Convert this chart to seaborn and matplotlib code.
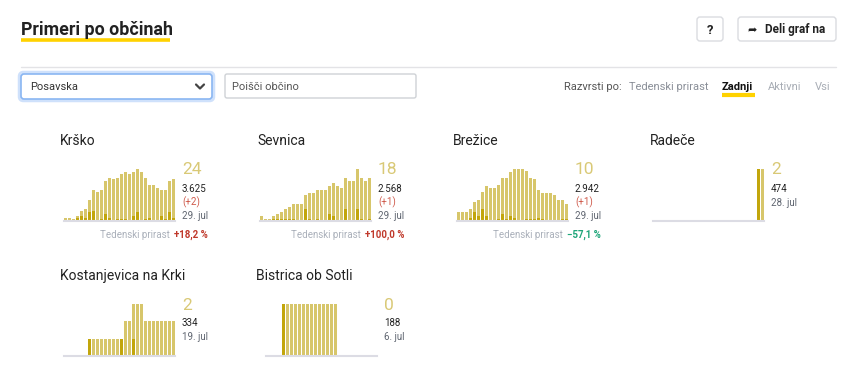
import matplotlib
matplotlib.use("Agg")
import matplotlib.pyplot as plt
from matplotlib.patches import FancyBboxPatch
import seaborn as sns
import pandas as pd

# figure size in pixels
W, H = 857, 375

# ---- data: 28 days, active cases (light) and daily new cases (dark) ----
days = list(range(1, 29))

krsko_active = [2, 2, 1, 3, 6, 7, 12, 18, 17, 18, 23, 25, 24, 25, 27, 28, 27, 28, 30, 28, 25, 21, 21, 19, 18, 18, 23, 24]
krsko_new = [0, 0, 0, 2, 3, 2, 5, 6, 0, 1, 4, 2, 0, 1, 1, 1, 0, 3, 5, 0, 1, 2, 0, 0, 3, 1, 5, 2]

sevnica_active = [2, 1, 1, 2, 3, 4, 5, 6, 7, 7, 7, 11, 12, 12, 13, 13, 13, 15, 16, 15, 14, 18, 17, 17, 22, 18, 17, 18]
sevnica_new = [0, 0, 0, 1, 1, 1, 1, 1, 1, 0, 0, 5, 1, 0, 1, 0, 0, 3, 2, 0, 0, 5, 0, 0, 5, 1, 0, 1]

brezice_active = [5, 5, 5, 7, 11, 12, 17, 20, 19, 19, 21, 25, 25, 28, 30, 30, 30, 29, 25, 24, 18, 16, 16, 16, 15, 12, 12, 10]
brezice_new = [0, 0, 0, 2, 5, 3, 7, 3, 0, 0, 1, 4, 1, 3, 2, 0, 0, 1, 1, 1, 2, 1, 0, 0, 0, 0, 1, 1]

radece_active = [0, 0, 0, 0, 0, 0, 0, 0, 0, 0, 0, 0, 0, 0, 0, 0, 0, 0, 0, 0, 0, 0, 0, 0, 0, 0, 2, 2]
radece_new = [0, 0, 0, 0, 0, 0, 0, 0, 0, 0, 0, 0, 0, 0, 0, 0, 0, 0, 0, 0, 0, 0, 0, 0, 0, 0, 2, 0]

kostanjevica_active = [0, 0, 0, 0, 0, 0, 1, 1, 1, 1, 1, 1, 1, 1, 1, 2, 2, 3, 3, 3, 2, 2, 2, 2, 2, 2, 2, 2]
kostanjevica_new = [0, 0, 0, 0, 0, 0, 1, 0, 0, 0, 0, 0, 0, 0, 1, 0, 0, 1, 0, 0, 0, 0, 0, 0, 0, 0, 0, 0]

bistrica_active = [0, 0, 0, 0, 1, 1, 1, 1, 1, 1, 1, 1, 1, 1, 1, 1, 1, 1, 0, 0, 0, 0, 0, 0, 0, 0, 0, 0]
bistrica_new = [0, 0, 0, 0, 1, 0, 0, 0, 0, 0, 0, 0, 0, 0, 0, 0, 0, 0, 0, 0, 0, 0, 0, 0, 0, 0, 0, 0]

names = ["Krško", "Sevnica", "Brežice", "Radeče", "Kostanjevica na Krki", "Bistrica ob Sotli"]
latest = ["24", "18", "10", "2", "2", "0"]
totals = ["3.625", "2.568", "2.942", "474", "334", "188"]
changes = ["(+2)", "(+1)", "(+1)", None, None, None]
last_dates = ["29. jul", "29. jul", "29. jul", "28. jul", "19. jul", "6. jul"]
weekly = ["+18,2 %", "+100,0 %", "\u221257,1 %", None, None, None]

series = [
    (krsko_active, krsko_new),
    (sevnica_active, sevnica_new),
    (brezice_active, brezice_new),
    (radece_active, radece_new),
    (kostanjevica_active, kostanjevica_new),
    (bistrica_active, bistrica_new),
]

# panel geometry in pixels: title x, title y, axis x0, x1, axis top y
panels = [
    (60, 141, 64, 175, 169),
    (257, 141, 260, 371, 169),
    (453, 141, 457, 568, 169),
    (650, 141, 653, 764, 169),
    (60, 276, 64, 175, 304),
    (256, 276, 266, 377, 304),
]

LIGHT = "#d7c66b"
DARK = "#c2a60c"
NUMC = "#d9c976"
FONT = ["Roboto", "DejaVu Sans"]
NARROW = ["Liberation Sans Narrow", "Roboto", "DejaVu Sans"]

sns.set_theme(style="white")
plt.rcParams["font.family"] = FONT

fig = plt.figure(figsize=(W / 100, H / 100), dpi=100)
fig.patch.set_facecolor("white")

# overlay axes in pixel coordinates for page text and controls
page = fig.add_axes([0, 0, 1, 1])
page.set_xlim(0, W)
page.set_ylim(H, 0)
page.axis("off")

page.text(21, 35, "Primeri po občinah", fontsize=12.8, fontweight="bold",
          family=NARROW, color="#222", va="baseline")
page.plot([21, 170], [39.5, 39.5], color="#ffd200", lw=2.6, solid_capstyle="butt")


def box(x0, y0, x1, y1, ec="#dadce0", lw=1.0, r=3, fc="white"):
    page.add_patch(FancyBboxPatch((x0, y0), x1 - x0, y1 - y0,
                                  boxstyle="round,pad=0,rounding_size=%d" % r,
                                  fc=fc, ec=ec, lw=lw))


box(697, 17, 723, 41)
page.text(710, 30, "?", fontsize=9.5, fontweight="bold", family=NARROW,
          ha="center", va="center", color="#222")
box(738, 17, 836, 41)
page.text(752, 29.5, "\u27a6", fontsize=8, family=["DejaVu Sans"], ha="center",
          va="center", color="#222")
page.text(765, 30, "Deli graf na", fontsize=8.5, fontweight="bold", family=NARROW,
          va="center", color="#222")

page.plot([21, 836], [66.5, 66.5], color="#e3e3e6", lw=1)

# select box and search box
box(19.5, 72.5, 213.5, 100.5, ec="#cfe1fb", lw=2.5, r=4)
box(21, 74, 212, 99, ec="#8ab6f2", lw=1.2, r=3)
page.text(30, 87, "Posavska", fontsize=8, family=NARROW, va="center", color="#333")
page.plot([196, 200, 204], [84.5, 88.5, 84.5], color="#444", lw=1.6)
box(225, 74, 416, 98, ec="#cfd2d6", lw=1.0, r=2)
page.text(232, 87, "Poišči občino", fontsize=8, family=NARROW, va="center", color="#555")

page.text(564, 87, "Razvrsti po:", fontsize=8, family=NARROW, va="center", color="#555")
page.text(629, 87, "Tedenski prirast", fontsize=8, family=NARROW, va="center", color="#8a8f98")
page.text(722, 87, "Zadnji", fontsize=8, fontweight="bold", family=NARROW, va="center", color="#111")
page.plot([722, 755], [95, 95], color="#ffd200", lw=3, solid_capstyle="butt")
page.text(768, 87, "Aktivni", fontsize=8, family=NARROW, va="center", color="#a8adb5")
page.text(815, 87, "Vsi", fontsize=8, family=NARROW, va="center", color="#a8adb5")

renderer = fig.canvas.get_renderer()

# ---- small multiples ----
for i, (tx, ty, x0, x1, top) in enumerate(panels):
    active, new = series[i]
    base = top + 52
    df = pd.DataFrame({"day": days, "active": active, "new": new})

    ax = fig.add_axes([x0 / W, 1 - base / H, (x1 - x0) / W, (base - top) / H])
    sns.barplot(data=df, x="day", y="active", color=LIGHT, width=0.85,
                saturation=1, linewidth=0, errorbar=None, ax=ax)
    sns.barplot(data=df, x="day", y="new", color=DARK, width=0.85,
                saturation=1, linewidth=0, errorbar=None, ax=ax)
    ax.set_xlim(-0.425, len(days) - 0.575)
    ax.set_ylim(0, max(active))
    ax.set_xticks([])
    ax.set_yticks([])
    ax.set_xlabel("")
    ax.set_ylabel("")
    ax.set_facecolor("none")
    for side in ["top", "left", "right"]:
        ax.spines[side].set_visible(False)
    ax.spines["bottom"].set_color("#dcdce4")
    ax.spines["bottom"].set_linewidth(1.5)
    ax.spines["bottom"].set_clip_on(False)

    page.text(tx, ty, names[i], fontsize=10, color="#222", va="center")

    nx = x1 + 7
    page.text(nx, top + 1, latest[i], fontsize=12.5, color=NUMC, va="center")
    page.text(nx, top + 19.5, totals[i], fontsize=7, color="#222", va="center")
    if changes[i]:
        page.text(nx, top + 33, changes[i], fontsize=7, color="#cf5a4b", va="center")
        page.text(nx, top + 47, last_dates[i], fontsize=7, color="#5f6570", va="center")
    else:
        page.text(nx, top + 33.5, last_dates[i], fontsize=7, color="#5f6570", va="center")

    if weekly[i]:
        gcolor = "#c0392b" if weekly[i].startswith("+") else "#1fa67a"
        val = page.text(x1 + 33, top + 66, weekly[i], fontsize=7, fontweight="bold",
                        color=gcolor, va="center", ha="right")
        left_px = val.get_window_extent(renderer).x0
        page.text(left_px - 4, top + 66, "Tedenski prirast", fontsize=7,
                  color="#aab0ba", va="center", ha="right")

fig.savefig("out.png", dpi=100, facecolor="white")
